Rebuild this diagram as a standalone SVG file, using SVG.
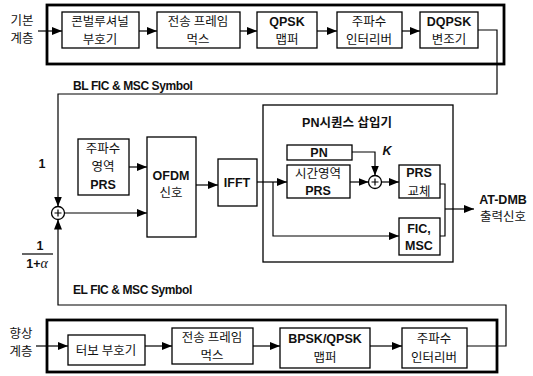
<svg xmlns="http://www.w3.org/2000/svg" width="533" height="376" viewBox="0 0 533 376">
<style>
.box{fill:#fff;stroke:#000;stroke-width:1.3}
.outer{fill:none;stroke:#000;stroke-width:2.8}
.ln{fill:none;stroke:#000;stroke-width:1.2}
.t{font-family:"Liberation Sans","Noto Sans CJK KR",sans-serif;font-size:12.5px;font-weight:bold;fill:#111;text-anchor:middle}
.k{font-family:"Noto Sans CJK KR","Liberation Sans",sans-serif;font-size:12.5px;fill:#111;text-anchor:middle}
.lbl{font-family:"Liberation Sans",sans-serif;font-size:12px;font-weight:bold;fill:#111;letter-spacing:-0.4px}
</style>
<defs>
<marker id="a" viewBox="0 0 10 8" refX="10" refY="4" markerWidth="10" markerHeight="8" markerUnits="userSpaceOnUse" orient="auto"><path d="M0,0L10,4L0,8z" fill="#000"/></marker>
</defs>
<rect width="533" height="376" fill="#fff"/>
<g id="base-layer">
<rect class="outer" x="47" y="5" width="457" height="59"/>
<text class="k" x="22" y="25">기본</text>
<text class="k" x="22" y="43">계층</text>
</g>
<g id="n1"><rect class="box" x="62" y="12" width="77" height="36"/><text class="k" x="100" y="26">콘벌루셔널</text><text class="k" x="100" y="44">부호기</text></g>
<g id="n2"><rect class="box" x="157" y="12" width="83" height="36"/><text class="k" x="198" y="26">전송 프레임</text><text class="k" x="198" y="44">먹스</text></g>
<g id="n3"><rect class="box" x="257" y="12" width="60" height="36"/><text class="t" x="287" y="26">QPSK</text><text class="k" x="287" y="44">맵퍼</text></g>
<g id="n4"><rect class="box" x="337" y="12" width="65" height="36"/><text class="k" x="369" y="26">주파수</text><text class="k" x="369" y="44">인터리버</text></g>
<g id="n5"><rect class="box" x="420" y="12" width="58" height="36"/><text class="t" x="449" y="26">DQPSK</text><text class="k" x="449" y="44">변조기</text></g>

<g id="n-prs"><rect class="box" x="78" y="139" width="51" height="56"/><text class="k" x="103" y="153">주파수</text><text class="k" x="103" y="171">영역</text><text class="t" x="103" y="189">PRS</text></g>
<g id="n-ofdm"><rect class="box" x="147" y="137" width="49" height="100"/><text class="t" x="171" y="180">OFDM</text><text class="k" x="171" y="197">신호</text></g>
<g id="n-ifft"><rect class="box" x="218" y="159" width="39" height="47"/><text class="t" x="237" y="187">IFFT</text></g>
<g id="pn-inserter"><rect class="box" x="263" y="105" width="190" height="157"/><text class="t" x="347" y="127">PN시퀀스 삽입기</text></g>
<g id="n-pn"><rect class="box" x="287" y="145" width="65" height="15"/><text class="t" x="319" y="157">PN</text></g>
<g id="n-tprs"><rect class="box" x="287" y="165" width="63" height="33"/><text class="k" x="318" y="178" font-size="12">시간영역</text><text class="t" x="318" y="195" font-size="12">PRS</text></g>
<g id="n-rep"><rect class="box" x="399" y="165" width="41" height="33"/><text class="t" x="419" y="177" font-size="12">PRS</text><text class="k" x="419" y="195.5" font-size="12">교체</text></g>
<g id="n-fic"><rect class="box" x="399" y="218" width="41" height="37"/><text class="t" x="419" y="233">FIC,</text><text class="t" x="419" y="250">MSC</text></g>
<g id="sum1"><circle class="box" cx="58" cy="213" r="6.5"/><path class="ln" d="M54.5,213H61.5M58,209.5V216.5"/></g>
<g id="sum2"><circle class="box" cx="375" cy="182" r="6.5"/><path class="ln" d="M371.5,182H378.5M375,178.5V185.5"/></g>
<g id="out"><text class="t" x="503" y="204">AT-DMB</text><text class="k" x="503" y="221">출력신호</text></g>

<g id="enh-layer">
<rect class="outer" x="47" y="320" width="450" height="52"/>
<text class="k" x="21" y="338">향상</text>
<text class="k" x="21" y="356">계층</text>
</g>
<g id="m1"><rect class="box" x="68" y="335" width="77" height="30"/><text class="k" x="106" y="355">터보 부호기</text></g>
<g id="m2"><rect class="box" x="172" y="328" width="81" height="36"/><text class="k" x="212" y="342">전송 프레임</text><text class="k" x="212" y="360">먹스</text></g>
<g id="m3"><rect class="box" x="280" y="328" width="90" height="40"/><text class="t" x="325" y="343">BPSK/QPSK</text><text class="k" x="325" y="362">맵퍼</text></g>
<g id="m4"><rect class="box" x="402" y="328" width="65" height="40"/><text class="k" x="434" y="343">주파수</text><text class="k" x="434" y="362">인터리버</text></g>

<g id="labels">
<text class="lbl" x="73" y="90">BL FIC &amp; MSC Symbol</text>
<text class="lbl" x="73" y="294">EL FIC &amp; MSC Symbol</text>
<text class="t" x="42" y="168" font-size="14">1</text>
<text class="t" x="40" y="250" font-size="14">1</text>
<path class="ln" d="M22,254H53" stroke-width="1.5"/>
<text class="t" x="37" y="268">1+<tspan font-style="italic" font-weight="normal" font-family="'Liberation Serif',serif" font-size="14">α</tspan></text>
<text class="t" x="387" y="155" font-style="italic">K</text>
</g>

<g id="connectors">
<path class="ln" d="M38,31H62" marker-end="url(#a)"/>
<path class="ln" d="M139,31H157" marker-end="url(#a)"/>
<path class="ln" d="M240,31H257" marker-end="url(#a)"/>
<path class="ln" d="M317,31H337" marker-end="url(#a)"/>
<path class="ln" d="M402,31H420" marker-end="url(#a)"/>
<path class="ln" d="M478,30H497V94H58V206.5" marker-end="url(#a)"/>
<path class="ln" d="M129,167H147" marker-end="url(#a)"/>
<path class="ln" d="M64.5,213H147" marker-end="url(#a)"/>
<path class="ln" d="M196,185H218" marker-end="url(#a)"/>
<path class="ln" d="M257,182H287" marker-end="url(#a)"/>
<path class="ln" d="M273,182V236H399" marker-end="url(#a)"/>
<path class="ln" d="M350,182H368.5" marker-end="url(#a)"/>
<path class="ln" d="M352,152H375V175.5" marker-end="url(#a)"/>
<path class="ln" d="M381.5,182H399" marker-end="url(#a)"/>
<path class="ln" d="M440,184H445V236H440"/>
<path class="ln" d="M445,209H474" marker-end="url(#a)"/>
<path class="ln" d="M467,346H506V305H58V219.5" marker-end="url(#a)"/>
<path class="ln" d="M36,346H68" marker-end="url(#a)"/>
<path class="ln" d="M145,346H172" marker-end="url(#a)"/>
<path class="ln" d="M253,346H280" marker-end="url(#a)"/>
<path class="ln" d="M370,346H402" marker-end="url(#a)"/>
</g>
</svg>
